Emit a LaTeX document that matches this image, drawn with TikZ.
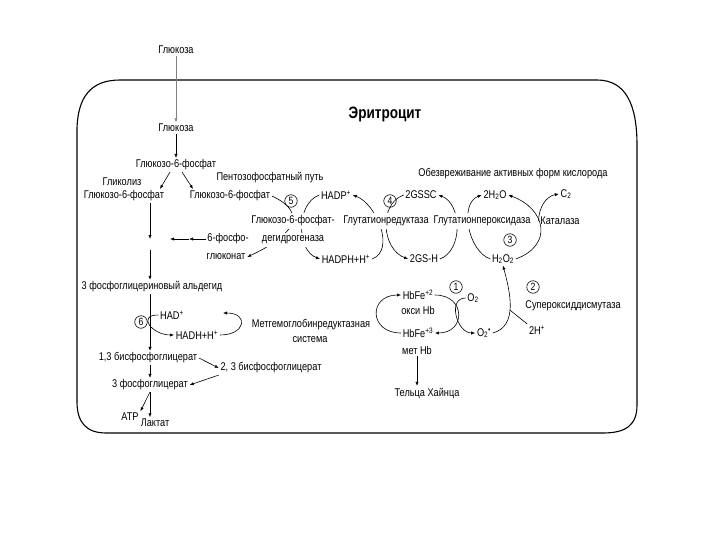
\documentclass[tikz,border=0pt]{standalone}
\usepackage{fontspec}
\setmainfont{Liberation Sans}[FakeStretch = 0.82]
\usetikzlibrary{arrows.meta}

\begin{document}
\begin{tikzpicture}[x = 1pt, y = -1pt, line width = 0.6pt,
	>={Latex[length = 4pt, width = 3.2pt]},
	txt/.style = {font = \fontsize{11.2}{12}\selectfont, inner sep = 1.5pt},
	enz/.style = {txt, fill = white, inner xsep = 1pt, inner ysep = 2.5pt},
	num/.style = {circle, draw, inner sep = 0pt, minimum size = 12.5pt, font = \fontsize{10.5}{10}\selectfont}]
	\useasboundingbox (0,0) rectangle (720,540);
	\draw[line width = 1.1pt] (77,128) .. controls (78,98) and (90,80) .. (120,80) -- (597,80)
		.. controls (626,80) and (637,105) .. (637,145) -- (637,405)
		.. controls (637,425) and (626,433) .. (603,433) -- (106,433)
		.. controls (86,433) and (77,422) .. (77,402) -- cycle;
	\node (glu0)	at (176, 50)	[txt]	{Глюкоза};
	\node (eri)	at (385,114)	[font = \fontsize{16.5}{18}\selectfont\bfseries]	{Эритроцит};
	\node (glu1)	at (176,128)	[txt]	{Глюкоза};
	\node (g6p)	at (176,165)	[txt]	{Глюкозо-6-фосфат};
	\node (pfp)	at (270,178)	[txt]	{Пентозофосфатный путь};
	\node (gly)	at (122,182)	[txt]	{Гликолиз};
	\node (g6pL)	at (124,196)	[txt]	{Глюкозо-6-фосфат};
	\node (g6pR)	at (230,196)	[txt]	{Глюкозо-6-фосфат};
	\node (n5)	at (291,201)	[num]	{5};
	\node (hadp)	at (336,195)	[txt]	{HADP\textsuperscript{+}};
	\node (n4)	at (390,201)	[num]	{4};
	\node (gssg)	at (421,195)	[txt]	{2GSSC};
	\node (h2o)	at (495,195)	[txt]	{2H\textsubscript{2}O};
	\node (o2c)	at (566,194)	[txt]	{C\textsubscript{2}};
	\node (obez)	at (513,174)	[txt]	{Обезвреживание активных форм кислорода};
	\node (fosfo)	at (228,239)	[txt]	{6-фосфо-};
	\node (glukon)	at (226,257)	[txt]	{глюконат};
	\node (hadph)	at (346,259)	[txt]	{HADPH+H\textsuperscript{+}};
	\node (gsh)	at (424,259)	[txt]	{2GS-H};
	\node (h2o2)	at (503,259)	[txt]	{H\textsubscript{2}O\textsubscript{2}};
	\node (n3)	at (510,240)	[num]	{3};
	\node (ald)	at (152,287)	[txt]	{3 фосфоглицериновый альдегид};
	\node (n1)	at (456,287)	[num]	{1};
	\node (n2)	at (533,287)	[num]	{2};
	\node (hb2)	at (418,295)	[txt]	{HbFe\textsuperscript{+2}};
	\node (oksi)	at (418,310)	[txt]	{окси Hb};
	\node (o2)	at (473,298)	[txt]	{O\textsubscript{2}};
	\node (sod)	at (573,306)	[txt]	{Супероксиддисмутаза};
	\node (had)	at (172,315)	[txt]	{HAD\textsuperscript{+}};
	\node (n6)	at (141,322)	[num]	{6};
	\node (mgr)	at (311,325)	[txt]	{Метгемоглобинредуктазная};
	\node (sys)	at (310,340)	[txt]	{система};
	\node (hb3)	at (418,333)	[txt]	{HbFe\textsuperscript{+3}};
	\node (o2r)	at (484,333)	[txt]	{O\textsubscript{2}\textsuperscript{•}};
	\node (h2p)	at (537,330)	[txt]	{2H\textsuperscript{+}};
	\node (hadh)	at (197,335)	[txt]	{HADH+H\textsuperscript{+}};
	\node (met)	at (417,350)	[txt]	{мет Hb};
	\node (bpg13)	at (148,358)	[txt]	{1,3 бисфосфоглицерат};
	\node (bpg23)	at (271,368)	[txt]	{2, 3 бисфосфоглицерат};
	\node (pg3)	at (150,385)	[txt]	{3 фосфоглицерат};
	\node (heinz)	at (427,393)	[txt]	{Тельца Хайнца};
	\node (atp)	at (130,417)	[txt]	{ATP};
	\node (lakt)	at (155,423)	[txt]	{Лактат};
	\coordinate (j1) at (150,239);
	\coordinate (m1) at (189,239);
	\coordinate (hadtip) at (223,313);
	\draw[->, gray, line width = 0.4pt] (glu0.south) -- (glu1.north);
	\draw[->] (glu1.south) -- (g6p.north);
	\draw[->] ([xshift = -6pt]g6p.south) -- ([xshift = 36pt]g6pL.north);
	\draw[->] ([xshift = 6pt]g6p.south) -- ([xshift = -37pt]g6pR.north);
	\draw[->] (g6pL.south -| j1) -- (j1);
	\draw[->] (fosfo.west) -- (m1);
	\draw[->] (m1) -- ([xshift = 20pt]j1);
	\draw[->] ([yshift = -11pt]j1) -- (ald.north -| j1);
	\draw[->] (ald.south -| j1) -- (bpg13.north -| j1);
	\draw[->] (bpg13.south -| j1) -- (pg3.north -| j1);
	\draw[->] (bpg13.east) -- (bpg23.west);
	\draw[->] (bpg23.south west) -- (pg3.east);
	\draw[->] (pg3.south) -- (atp.north east);
	\draw[->] (pg3.south) -- (pg3.south |- lakt.north);
	\draw[->] (g6pR.east) to[out = -25, in = 25, looseness = 1.75] (glukon.east);
	\draw[->] (hadp.west) to[out = 200, in = 160, looseness = 1.0] (hadph.west);
	\draw[->] (hadph.east) to[out = 20, in = -20, looseness = 0.97] (hadp.east);
	\draw[->] (gssg.west) to[out = 200, in = 160, looseness = 1.1] (gsh.west);
	\draw[->] (gsh.east) to[out = 20, in = -20, looseness = 1.0] (gssg.east);
	\draw[->] (h2o2.west) to[out = 160, in = 200, looseness = 0.95] (h2o.west);
	\draw[->] (h2o2.east) to[out = 20, in = -20, looseness = 1.6] (h2o.east);
	\draw[->] (had.west) to[out = 180, in = 180, looseness = 2.2] (hadh.west);
	\draw[->] (hadh.east) to[out = 0, in = 0, looseness = 3] (hadtip);
	\draw[->] (hb3.west) to[out = 180, in = 180, looseness = 2.2] (hb2.west);
	\draw[->] (hb2.east) to[out = 0, in = 0, looseness = 2.1] (hb3.east);
	\draw[->] (o2.west) to[out = 180, in = 180, looseness = 1.3] (o2r.west);
	\draw[->] (o2r.east) to[out = 15, in = -75] coordinate[pos = 0.45] (sodj) (h2o2.south);
	\draw (h2p.north west) -- (sodj);
	\draw[->] (met.south) -- (met.south |- heinz.north);
	\node (g6pdh)	at (293,221)	[enz]	{Глюкозо-6-фосфат-};
	\node (dehyd)	at (293,240)	[enz]	{дегидрогеназа};
	\node (gr)	at (386,221)	[enz]	{Глутатионредуктаза};
	\node (gpx)	at (482,221)	[enz]	{Глутатионпероксидаза};
	\node (kat)	at (560,221)	[txt]	{Каталаза};
	\draw[->] (kat.west) to[out = 90, in = 190] (o2c.west);
\end{tikzpicture}
\end{document}
